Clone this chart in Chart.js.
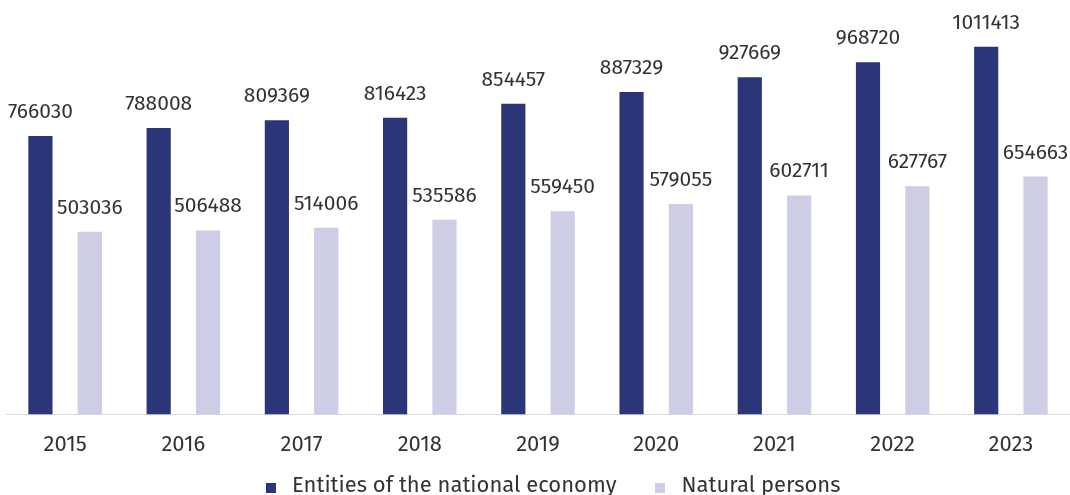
<!DOCTYPE html>
<html>
<head>
<meta charset="utf-8">
<script src="https://cdn.jsdelivr.net/npm/chart.js@4.4.1/dist/chart.umd.min.js"></script>
<style>
    html, body { margin: 0; padding: 0; background: #fff; }
    #wrap { position: relative; width: 1070px; height: 495px; }
    #legend {
        position: absolute; left: 266px; top: 472px;
        display: flex; align-items: center;
        font-family: "Fira Sans", "Noto Sans", sans-serif; font-size: 22px; line-height: 26px; color: #333;
    }
    #legend .item { display: flex; align-items: center; margin-right: 39px; }
    #legend .box { width: 10px; height: 10px; margin-right: 16px; margin-top: 5px; }
</style>
</head>
<body>
<div id="wrap">
    <canvas id="barChart" width="1070" height="495"></canvas>
    <div id="legend"></div>
</div>
<script>
const years = ["2015", "2016", "2017", "2018", "2019", "2020", "2021", "2022", "2023"];
const entities = [766030, 788008, 809369, 816423, 854457, 887329, 927669, 968720, 1011413];
const persons = [503036, 506488, 514006, 535586, 559450, 579055, 602711, 627767, 654663];
const seriesNames = ["Entities of the national economy", "Natural persons"];
const seriesColors = ["#2b3678", "#cdcde5"];

const FONT = "'Fira Sans', 'Noto Sans', sans-serif";

// value labels above each bar
const barLabels = {
    id: "barLabels",
    afterDatasetsDraw(chart) {
        const ctx = chart.ctx;
        ctx.save();
        ctx.font = "21px " + FONT;
        ctx.fillStyle = "#333";
        ctx.textAlign = "center";
        ctx.textBaseline = "alphabetic";
        chart.data.datasets.forEach((ds, i) => {
            chart.getDatasetMeta(i).data.forEach((bar, j) => {
                ctx.fillText(ds.data[j], bar.x, bar.y - 18);
            });
        });
        ctx.restore();
    }
};

new Chart(document.getElementById("barChart"), {
    type: "bar",
    data: {
        labels: years,
        datasets: [
            { label: seriesNames[0], data: entities, backgroundColor: seriesColors[0] },
            { label: seriesNames[1], data: persons, backgroundColor: seriesColors[1] }
        ]
    },
    options: {
        responsive: false,
        animation: false,
        categoryPercentage: 0.835,
        barPercentage: 0.49,
        layout: { padding: { left: 6, right: 0, top: 0, bottom: 20 } },
        plugins: {
            legend: { display: false },
            tooltip: { enabled: false }
        },
        scales: {
            x: {
                grid: { display: false, drawTicks: false },
                border: { display: true, color: "#d9d9d9", width: 1 },
                ticks: {
                    padding: 17,
                    color: "#333",
                    font: { family: FONT, size: 22 }
                }
            },
            y: {
                display: false,
                min: 0,
                max: 1140000
            }
        }
    },
    plugins: [barLabels]
});

// legend
let html = "";
seriesNames.forEach((name, i) => {
    html += `<div class="item"><span class="box" style="background:${seriesColors[i]}"></span>${name}</div>`;
});
document.getElementById("legend").innerHTML = html;
</script>
</body>
</html>
